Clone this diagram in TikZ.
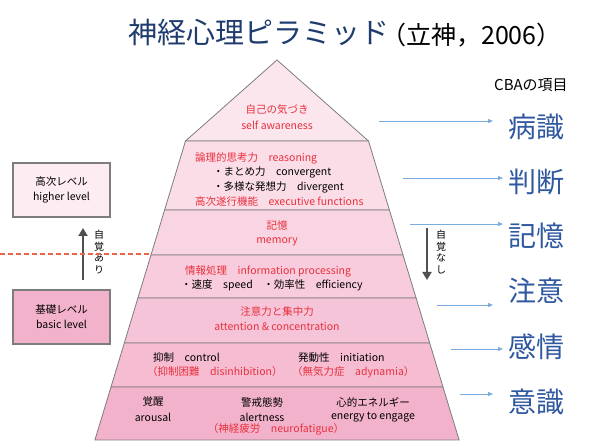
\documentclass[tikz,border=0pt]{standalone}
\usepackage{fontspec}
\setmainfont{Noto Sans CJK JP}
\usepackage{xcolor}
\usepackage{tikz}
\usetikzlibrary{arrows.meta}

\definecolor{layA}{RGB}{252,230,238}
\definecolor{layB}{RGB}{251,221,232}
\definecolor{layC}{RGB}{249,212,226}
\definecolor{layD}{RGB}{248,204,221}
\definecolor{layE}{RGB}{246,196,216}
\definecolor{layF}{RGB}{245,188,210}
\definecolor{layG}{RGB}{243,178,203}
\definecolor{edgegray}{RGB}{125,125,125}
\definecolor{jpred}{RGB}{232,48,60}
\definecolor{titleblue}{RGB}{31,60,110}
\definecolor{termblue}{RGB}{47,88,160}
\definecolor{arrowblue}{RGB}{120,172,225}
\definecolor{dashred}{RGB}{238,100,70}
\definecolor{arrowgray}{RGB}{80,80,80}

\tikzset{
  layer/.style={draw=edgegray, line width=0.8pt},
  jp/.style={font=\fontsize{10.5}{12}\selectfont, inner sep=0pt},
  jpr/.style={jp, text=jpred},
  lvlbox/.style={draw=edgegray, line width=1.2pt, minimum width=97pt, minimum height=54pt,
    align=center, font=\fontsize{10.5}{15}\selectfont},
  vlabel/.style={font=\fontsize{10}{11.5}\selectfont, align=center, inner sep=0pt},
  term/.style={font=\fontsize{28}{30}\selectfont, text=termblue, inner sep=0pt, anchor=west},
  cbaarrow/.style={draw=arrowblue, line width=0.8pt, -{Triangle[length=5pt,width=4pt]}},
  awarrow/.style={draw=arrowgray, line width=2.5pt, -{Triangle[length=8pt,width=9pt]}}
}

\begin{document}
\begin{tikzpicture}[x=1pt,y=-1pt]
\useasboundingbox (0,0) rectangle (614,443);

% title
\node[font=\fontsize{29}{32}\selectfont, text=titleblue, inner sep=0pt, anchor=west] (title) at (128,33) {神経心理ピラミッド};
\node[font=\fontsize{25}{28}\selectfont, inner sep=0pt, anchor=west] (cite) at (381,35) {（立神，2006）};

% pyramid
\filldraw[layer, fill=layA] (277,60) -- (368.5,141) -- (185.5,141) -- cycle;
\filldraw[layer, fill=layB] (185.5,141) -- (368.5,141) -- (389.4,210) -- (164.6,210) -- cycle;
\filldraw[layer, fill=layC] (164.6,210) -- (389.4,210) -- (403,255) -- (151,255) -- cycle;
\filldraw[layer, fill=layD] (151,255) -- (403,255) -- (416.1,298) -- (137.9,298) -- cycle;
\filldraw[layer, fill=layE] (137.9,298) -- (416.1,298) -- (429.7,343) -- (124.3,343) -- cycle;
\filldraw[layer, fill=layF] (124.3,343) -- (429.7,343) -- (443,387) -- (111,387) -- cycle;
\filldraw[layer, fill=layG] (111,387) -- (443,387) -- (459.1,440) -- (94.9,440) -- cycle;

% layer texts
\node[jpr] (self) at (277,110) {自己の気づき};
\node[jpr] (selfen) at (277,125) {self awareness};

\node[jpr, anchor=west] (reason) at (195,158) {論理的思考力　reasoning};
\node[jp, anchor=west] (conv) at (213,172) {・まとめ力　convergent};
\node[jp, anchor=west] (div) at (213,187) {・多様な発想力　divergent};
\node[jpr, anchor=west] (exec) at (195,202) {高次遂行機能　executive functions};

\node[jpr] (mem) at (277,226) {記憶};
\node[jpr] (memen) at (277,242) {memory};

\node[jpr, anchor=west] (info) at (185,271) {情報処理　information processing};
\node[jp, anchor=west] (speed) at (181,285) {・速度　speed　・効率性　efficiency};

\node[jpr] (att) at (277,312) {注意力と集中力};
\node[jpr] (atten) at (277,327) {attention \& concentration};

\node[jp, anchor=west] (ctrl) at (153,358) {抑制　control};
\node[jpr, anchor=west] (disinh) at (147,372) {（抑制困難　disinhibition）};
\node[jp, anchor=west] (init) at (298,358) {発動性　initiation};
\node[jpr, anchor=west] (adyn) at (292,372) {（無気力症　adynamia）};

\node[jp] (arou) at (153,402) {覚醒};
\node[jp] (arouen) at (153,417) {arousal};
\node[jp] (alert) at (262,402) {警戒態勢};
\node[jp] (alerten) at (262,417) {alertness};
\node[jp] (energy) at (373,402) {心的エネルギー};
\node[jp] (energyen) at (373,417) {energy to engage};
\node[jpr] (fatigue) at (276,429) {（神経疲労　neurofatigue）};

% levels
\node[lvlbox, fill=layA!70!white] (higher) at (61.5,190) {高次レベル\\higher level};
\node[lvlbox, fill=layG] (basic) at (61.5,317) {基礎レベル\\basic level};
\coordinate (upS) at (83,280);
\coordinate (upE) at (83,228);
\draw[awarrow] (upS) -- (upE);
\node[vlabel] (aware) at (99,252) {自\\覚\\あ\\り};

\coordinate (dashS) at (0,254);
\coordinate (dashE) at (151.3,254);
\draw[draw=dashred, line width=1.2pt, dash pattern=on 5pt off 3pt] (dashS) -- (dashE);

\coordinate (downS) at (427,228);
\coordinate (downE) at (427,280);
\draw[awarrow] (downS) -- (downE);
\node[vlabel] (unaware) at (441,252) {自\\覚\\な\\し};

% CBA items
\node[font=\fontsize{15}{17}\selectfont, inner sep=0pt, anchor=west] (cba) at (494,85) {CBAの項目};
\node[term] (t1) at (508,127) {病識};
\node[term] (t2) at (508,182) {判断};
\node[term] (t3) at (508,236) {記憶};
\node[term] (t4) at (508,291) {注意};
\node[term] (t5) at (508,347) {感情};
\node[term] (t6) at (508,402) {意識};

\coordinate (s1) at (379,121); \coordinate (e1) at (493,121);
\coordinate (s2) at (403,178); \coordinate (e2) at (503,178);
\coordinate (s3) at (410,224); \coordinate (e3) at (503,224);
\coordinate (s4) at (437,305); \coordinate (e4) at (493,305);
\coordinate (s5) at (451,349); \coordinate (e5) at (503,349);
\coordinate (s6) at (460,394); \coordinate (e6) at (493,394);
\foreach \i in {1,...,6}
  \draw[cbaarrow] (s\i) -- (e\i);
\end{tikzpicture}
\end{document}
